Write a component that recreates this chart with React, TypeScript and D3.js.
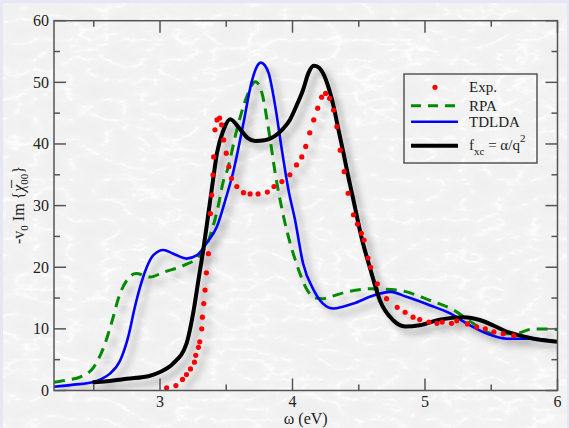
import React from "react";
import * as d3 from "d3";

const expX = [3.05,3.12,3.17,3.2,3.23,3.26,3.27,3.29,3.3,3.315,3.32,3.33,3.34,3.35,3.365,3.38,3.39,3.4,3.405,3.415,3.43,3.45,3.465,3.48,3.5,3.52,3.54,3.58,3.63,3.68,3.74,3.81,3.86,3.92,3.98,4.03,4.07,4.1,4.13,4.16,4.19,4.22,4.25,4.28,4.31,4.335,4.36,4.39,4.42,4.46,4.49,4.52,4.54,4.57,4.59,4.64,4.71,4.79,4.85,4.91,4.96,5.03,5.09,5.13,5.2,5.24,5.32,5.39,5.455,5.52,5.59,5.67];
const expY = [0.45,0.8,1.8,2.6,3.5,4.6,5.7,7.0,7.9,10.0,11.9,14.1,16.3,19.1,22.2,28.7,31.7,35.0,37.9,42.3,43.9,44.2,43.1,40.65,38.5,36.3,34.4,33.1,32.1,31.9,31.9,32.2,33.1,33.9,35.0,36.6,37.9,39.6,41.8,43.9,45.8,47.6,48.2,47.4,45.5,42.8,39.0,35.5,32.0,28.5,27.0,25.5,24.4,21.5,20.0,17.3,14.9,13.5,12.7,11.9,11.5,11.1,10.9,11.1,10.9,11.3,10.8,10.3,10.0,9.5,9.2,8.9];

const rpaX = [2.2,2.3,2.4,2.5,2.585,2.64,2.69,2.75,2.82,2.925,3.025,3.18,3.3,3.36,3.4,3.44,3.48,3.5,3.58,3.655,3.72,3.77,3.82,3.87,3.94,4.03,4.12,4.18,4.23,4.3,4.41,4.59,4.79,5.04,5.22,5.37,5.52,5.67,5.82,6.0];
const rpaY = [1.35,1.7,2.2,3.8,7.6,11.4,15.2,17.9,19.0,18.4,19.2,20.3,21.95,24.0,26.6,30.0,34.1,35.2,42.3,47.7,50.1,48.2,42.3,35.2,27.5,20.6,16.0,15.0,14.9,15.3,16.0,16.5,16.3,14.6,13.0,10.8,9.2,9.2,10.0,9.9];

const tdldaX = [2.2,2.35,2.49,2.56,2.62,2.7,2.76,2.81,2.85,2.9,2.95,3.025,3.1,3.2,3.28,3.35,3.43,3.5,3.55,3.63,3.69,3.73,3.76,3.79,3.82,3.87,3.92,3.97,4.02,4.08,4.16,4.23,4.31,4.38,4.46,4.61,4.74,4.86,5.04,5.19,5.32,5.47,5.62,5.82,6.0];
const tdldaY = [0.6,0.95,1.35,1.9,2.7,4.9,8.7,13.5,16.8,20.0,21.95,22.8,22.2,21.4,21.95,23.85,26.6,31.4,35.2,43.4,49.9,52.5,53.2,52.8,51.5,46.1,39.0,32.5,27.6,20.6,16.3,14.1,13.3,13.6,14.1,15.4,16.0,15.2,13.8,12.5,10.8,9.2,8.4,8.4,7.9];

const fxcX = [2.49,2.6,2.75,2.925,3.0,3.1,3.2,3.25,3.29,3.33,3.365,3.4,3.43,3.48,3.53,3.6,3.66,3.72,3.79,3.86,3.93,3.98,4.03,4.08,4.12,4.16,4.2,4.23,4.27,4.31,4.35,4.385,4.42,4.46,4.52,4.59,4.66,4.76,4.85,4.96,5.11,5.29,5.42,5.52,5.62,5.72,5.82,6.0];
const fxcY = [1.3,1.5,1.9,2.4,3.0,4.4,7.6,12.5,17.9,23.3,28.7,34.1,38.5,42.3,44.0,42.5,41.0,40.5,40.6,41.2,42.5,43.9,46.2,48.8,51.5,52.7,52.4,51.5,49.3,46.1,42.0,38.5,34.8,30.9,24.9,19.5,14.6,11.4,10.4,10.6,11.5,11.9,11.4,10.5,9.5,8.9,8.4,7.9];

const xMajor = [3, 4, 5, 6];
const xMinor = [2.5, 3.5, 4.5, 5.5];
const yMajor = [0, 10, 20, 30, 40, 50, 60];
const yMinor = [5, 15, 25, 35, 45, 55];

const W = 569, H = 428;
const L = 54, R = 557.5, T = 20.7, B = 390.5;

export default function App() {
  const x = d3.scaleLinear().domain([2.2, 6]).range([L, R]);
  const y = d3.scaleLinear().domain([0, 60]).range([B, T]);
  const line = (xs: number[], ys: number[]) =>
    d3.line<number>().x((_, i) => x(xs[i])).y((_, i) => y(ys[i])).curve(d3.curveMonotoneX)(xs) || "";

  const axisColor = "#555";
  const font = "'Liberation Serif', 'DejaVu Serif', serif";
  const tickMaj = 12, tickMin = 6;

  return (
    <svg width={W} height={H} style={{ position: "fixed", left: 0, top: 0 }} xmlns="http://www.w3.org/2000/svg">
      <defs>
        <filter id="marble" x="0" y="0" width="100%" height="100%">
          <feTurbulence type="turbulence" baseFrequency="0.028 0.05" numOctaves="4" seed="11" result="t" />
          <feColorMatrix in="t" type="matrix"
            values="1 0 0 0 0  1 0 0 0 0  1 0 0 0 0  0 0 0 0 1" result="g" />
          <feComponentTransfer in="g">
            <feFuncR type="table" tableValues="1 0.9 0.885 0.875 0.87 0.865" />
            <feFuncG type="table" tableValues="1 0.9 0.885 0.875 0.87 0.865" />
            <feFuncB type="table" tableValues="1 0.9 0.885 0.875 0.87 0.865" />
          </feComponentTransfer>
        </filter>
        <filter id="shadow" x="-10%" y="-10%" width="130%" height="130%">
          <feDropShadow dx="6" dy="6" stdDeviation="3" floodColor="#000" floodOpacity="0.28" />
        </filter>
        <clipPath id="plotclip">
          <rect x={L} y={T - 5} width={R - L} height={B - T + 5} />
        </clipPath>
      </defs>
      <rect x={0} y={0} width={W} height={H} fill="#e6e6f6" />
      <rect x={3} y={3} width={W - 5} height={H - 3} fill="#e2e2e2" />
      <rect x={3} y={3} width={W - 5} height={H - 3} filter="url(#marble)" />

      {/* curves */}
      <g clipPath="url(#plotclip)">
        <g filter="url(#shadow)">
          <path d={line(rpaX, rpaY)} fill="none" stroke="#008a00" strokeWidth={3} strokeDasharray="11 7" />
          <path d={line(tdldaX, tdldaY)} fill="none" stroke="#0000ff" strokeWidth={2.6} />
          <path d={line(fxcX, fxcY)} fill="none" stroke="#000" strokeWidth={4} />
          {expX.map((v, i) => (
            <circle key={i} cx={x(v)} cy={y(expY[i])} r={2.6} fill="#ff0000" />
          ))}
        </g>
      </g>

      {/* frame */}
      <rect x={L} y={T} width={R - L} height={B - T} fill="none" stroke={axisColor} strokeWidth={1.5} />
      {xMajor.map((v) => (
        <g key={"xM" + v}>
          <line x1={x(v)} x2={x(v)} y1={B} y2={B - tickMaj} stroke={axisColor} strokeWidth={1.5} />
          <line x1={x(v)} x2={x(v)} y1={T} y2={T + tickMaj} stroke={axisColor} strokeWidth={1.5} />
          <text x={x(v)} y={B + 16} textAnchor="middle" fontFamily={font} fontSize={16} fill="#222">{v}</text>
        </g>
      ))}
      {xMinor.map((v) => (
        <g key={"xm" + v}>
          <line x1={x(v)} x2={x(v)} y1={B} y2={B - tickMin} stroke={axisColor} strokeWidth={1.5} />
          <line x1={x(v)} x2={x(v)} y1={T} y2={T + tickMin} stroke={axisColor} strokeWidth={1.5} />
        </g>
      ))}
      {yMajor.map((v) => (
        <g key={"yM" + v}>
          <line x1={L} x2={L + tickMaj} y1={y(v)} y2={y(v)} stroke={axisColor} strokeWidth={1.5} />
          <line x1={R} x2={R - tickMaj} y1={y(v)} y2={y(v)} stroke={axisColor} strokeWidth={1.5} />
          <text x={L - 5} y={y(v) + 5.5} textAnchor="end" fontFamily={font} fontSize={16} fill="#222">{v}</text>
        </g>
      ))}
      {yMinor.map((v) => (
        <g key={"ym" + v}>
          <line x1={L} x2={L + tickMin} y1={y(v)} y2={y(v)} stroke={axisColor} strokeWidth={1.5} />
          <line x1={R} x2={R - tickMin} y1={y(v)} y2={y(v)} stroke={axisColor} strokeWidth={1.5} />
        </g>
      ))}

      {/* axis labels */}
      <text x={(L + R) / 2} y={423.5} textAnchor="middle" fontFamily={font} fontSize={16} fill="#222">ω (eV)</text>
      <text transform="translate(24,205) rotate(-90)" textAnchor="middle" fontFamily={font} fontSize={16} fill="#222">
        <tspan>-v</tspan>
        <tspan fontSize={11} dy={4}>0</tspan>
        <tspan dy={-4}> Im {"{"}</tspan>
        <tspan fontStyle="italic">χ̅</tspan>
        <tspan fontSize={11} dy={4}>00</tspan>
        <tspan dy={-4}>{"}"}</tspan>
      </text>

      {/* legend */}
      <g fontFamily={font} fontSize={15} fill="#222">
        <rect x={404} y={74} width={133} height={89} fill="none" stroke={axisColor} strokeWidth={1.5} />
        <circle cx={435} cy={87.3} r={2.6} fill="#ff0000" />
        <text x={469} y={92}>Exp.</text>
        <line x1={411} x2={458} y1={105.7} y2={105.7} stroke="#008a00" strokeWidth={3} strokeDasharray="10 7" />
        <text x={469} y={111}>RPA</text>
        <line x1={411} x2={458} y1={121.7} y2={121.7} stroke="#0000ff" strokeWidth={2.6} />
        <text x={469} y={127}>TDLDA</text>
        <line x1={411} x2={458} y1={145.7} y2={145.7} stroke="#000" strokeWidth={4} />
        <text x={469} y={150}>
          <tspan>f</tspan>
          <tspan fontSize={11} dy={5}>xc</tspan>
          <tspan dy={-5}> = α/q</tspan>
          <tspan fontSize={11} dy={-8}>2</tspan>
        </text>
      </g>
    </svg>
  );
}
